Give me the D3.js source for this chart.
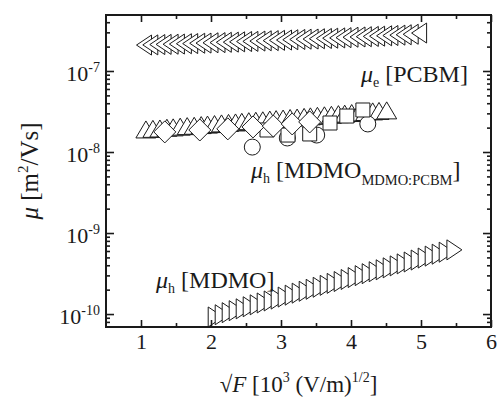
<!DOCTYPE html>
<html>
<meta charset="utf-8">
<style>
body{margin:0;background:#fff;}
svg text{font-family:"Liberation Serif","Times New Roman",serif;fill:#1a1a1a;}
.mark{fill:#fff;stroke:#1a1a1a;stroke-width:1;}
</style>
<body>
<svg width="498" height="405"></svg>
<script src="https://d3js.org/d3.v7.min.js"></script>
<script>
// mu_e PCBM (left triangles)
var pcbmX = [1.05,1.14,1.24,1.33,1.43,1.52,1.62,1.71,1.81,1.90,2.00,2.10,2.19,2.29,2.38,2.48,2.57,2.67,2.76,2.86,2.95,3.05,3.14,3.24,3.33,3.43,3.52,3.62,3.71,3.81,3.90,4.00,4.10,4.19,4.29,4.38,4.48,4.57,4.67,4.76,4.86,4.98];
var pcbmY = [2.09e-7,2.10e-7,2.12e-7,2.13e-7,2.14e-7,2.15e-7,2.17e-7,2.18e-7,2.20e-7,2.21e-7,2.23e-7,2.24e-7,2.26e-7,2.27e-7,2.29e-7,2.31e-7,2.32e-7,2.34e-7,2.36e-7,2.37e-7,2.39e-7,2.41e-7,2.43e-7,2.45e-7,2.47e-7,2.48e-7,2.50e-7,2.52e-7,2.54e-7,2.56e-7,2.58e-7,2.61e-7,2.63e-7,2.65e-7,2.67e-7,2.69e-7,2.72e-7,2.74e-7,2.77e-7,2.80e-7,2.84e-7,2.94e-7];
// mu_h blend (up triangles)
var blendX = [1.07,1.17,1.27,1.37,1.46,1.56,1.66,1.76,1.86,1.95,2.05,2.15,2.25,2.35,2.44,2.54,2.64,2.74,2.84,2.93,3.03,3.13,3.23,3.33,3.42,3.52,3.62,3.72,3.82,3.91,4.01,4.11,4.21,4.31,4.40,4.51];
var blendY = [1.82e-8,1.85e-8,1.87e-8,1.91e-8,1.93e-8,1.97e-8,2.00e-8,2.02e-8,2.06e-8,2.09e-8,2.12e-8,2.16e-8,2.19e-8,2.22e-8,2.26e-8,2.30e-8,2.33e-8,2.36e-8,2.41e-8,2.44e-8,2.48e-8,2.52e-8,2.55e-8,2.60e-8,2.64e-8,2.68e-8,2.72e-8,2.76e-8,2.81e-8,2.85e-8,2.90e-8,2.95e-8,2.99e-8,3.04e-8,3.08e-8,3.13e-8];
// diamonds
var diaX = [1.34,1.84,2.24,2.60,2.89,3.16,3.41];
var diaY = [1.77e-8,1.87e-8,1.93e-8,2.04e-8,2.09e-8,2.22e-8,2.35e-8];
// squares
var sqX = [2.80,3.10,3.41,3.70,3.94,4.17];
var sqY = [1.87e-8,1.62e-8,1.67e-8,2.28e-8,2.78e-8,3.30e-8];
// circles
var cirX = [2.59,3.09,3.51,4.24];
var cirY = [1.15e-8,1.49e-8,1.62e-8,2.22e-8];
// mu_h MDMO (right triangles)
var mdmoX = [2.06,2.16,2.26,2.36,2.46,2.56,2.66,2.76,2.86,2.96,3.06,3.16,3.26,3.36,3.46,3.56,3.66,3.76,3.86,3.96,4.06,4.16,4.26,4.36,4.46,4.56,4.66,4.76,4.86,4.96,5.06,5.16,5.26,5.36,5.47];
var mdmoY = [9.2e-11,9.8e-11,1.04e-10,1.10e-10,1.16e-10,1.23e-10,1.30e-10,1.37e-10,1.45e-10,1.53e-10,1.62e-10,1.71e-10,1.81e-10,1.91e-10,2.02e-10,2.14e-10,2.26e-10,2.39e-10,2.52e-10,2.67e-10,2.82e-10,2.98e-10,3.15e-10,3.33e-10,3.52e-10,3.72e-10,3.93e-10,4.16e-10,4.39e-10,4.64e-10,4.91e-10,5.19e-10,5.48e-10,5.80e-10,6.20e-10];

var xMajor = [1,2,3,4,5,6];
var xMinor = [1.5,2.5,3.5,4.5,5.5];
var yMajor = [1e-10,1e-9,1e-8,1e-7];
var yExp = ["-10","-9","-8","-7"];

var svg = d3.select("svg"),
    padL = 106, padT = 15,
    width = 385, height = 312;
var g = svg.append("g").attr("transform", "translate(" + padL + "," + padT + ")");

var x = d3.scaleLinear().domain([0.5, 6]).range([0, width]);
var y = d3.scaleLog().domain([6.92e-11, 4.91e-7]).range([height, 0]);

var yMinor = [];
[-11,-10,-9,-8,-7].forEach(function(e) {
  for (var k = 2; k <= 9; k++) {
    var v = k * Math.pow(10, e);
    if (v > y.domain()[0] && v < y.domain()[1]) yMinor.push(v);
  }
});

function pts(xs, ys) { return xs.map(function(d, i) { return [d, ys[i]]; }); }

// markers
var triL = "M-8,0L7,-10L7,10Z",
    triR = "M8,0L-7,-10L-7,10Z",
    triU = "M0,-10L10,7L-10,7Z",
    dia = "M0,-11L11,0L0,11L-11,0Z",
    sq = "M-7,-7H7V7H-7Z";

function drawPath(data, d) {
  g.append("g").selectAll("path").data(data).enter().append("path")
    .attr("class", "mark")
    .attr("d", d)
    .attr("transform", function(p) { return "translate(" + x(p[0]) + "," + y(p[1]) + ")"; });
}

drawPath(pts(pcbmX, pcbmY), triL);
drawPath(pts(mdmoX, mdmoY), triR);
drawPath(pts(blendX, blendY), triU);
g.append("g").selectAll("circle").data(pts(cirX, cirY)).enter().append("circle")
  .attr("class", "mark")
  .attr("cx", function(p) { return x(p[0]); })
  .attr("cy", function(p) { return y(p[1]); })
  .attr("r", 8);
drawPath(pts(sqX, sqY), sq);
drawPath(pts(diaX, diaY), dia);

// axes (inward ticks, mirrored)
function tickAxis(axis, vals, size) {
  return axis.tickValues(vals).tickSize(size).tickFormat("");
}
var xb = g.append("g").attr("transform", "translate(0," + height + ")");
xb.call(d3.axisBottom(x).tickValues(xMajor).tickSize(-7).tickPadding(6).tickFormat(d3.format("d")));
xb.append("g").call(tickAxis(d3.axisBottom(x), xMinor, -4));
g.append("g").call(tickAxis(d3.axisTop(x), xMajor, -7));
g.append("g").call(tickAxis(d3.axisTop(x), xMinor, -4));

var yl = g.append("g");
yl.call(tickAxis(d3.axisLeft(y), yMajor, -8));
yl.append("g").call(tickAxis(d3.axisLeft(y), yMinor, -4));
var yr = g.append("g").attr("transform", "translate(" + width + ",0)");
yr.call(tickAxis(d3.axisRight(y), yMajor, -8));
yr.append("g").call(tickAxis(d3.axisRight(y), yMinor, -4));

g.selectAll(".domain").remove();
g.selectAll(".tick line").attr("stroke", "#1a1a1a").attr("stroke-width", 1.6);
xb.selectAll(".tick text").attr("font-size", 22).attr("font-family", "Liberation Serif");

// y tick labels
yMajor.forEach(function(v, i) {
  var t = g.append("text").attr("x", -6).attr("y", y(v) + 10)
    .attr("text-anchor", "end").attr("font-size", 22);
  t.append("tspan").text("10");
  t.append("tspan").attr("font-size", 14).attr("dy", -9).text(yExp[i]);
});

// frame
g.append("rect").attr("width", width).attr("height", height)
  .attr("fill", "none").attr("stroke", "#1a1a1a").attr("stroke-width", 2);

// axis titles
var xt = svg.append("text").attr("x", padL + width / 2).attr("y", 392)
  .attr("text-anchor", "middle").attr("font-size", 23);
xt.append("tspan").text("\u221A");
xt.append("tspan").attr("font-style", "italic").text("F");
xt.append("tspan").text(" [10");
xt.append("tspan").attr("font-size", 14).attr("dy", -10).text("3");
xt.append("tspan").attr("dy", 10).text(" (V/m)");
xt.append("tspan").attr("font-size", 14).attr("dy", -10).text("1/2");
xt.append("tspan").attr("dy", 10).text("]");

var yt = svg.append("text").attr("transform", "translate(38," + (padT + height / 2) + ") rotate(-90)")
  .attr("text-anchor", "middle").attr("font-size", 25);
yt.append("tspan").attr("font-style", "italic").text("\u03BC");
yt.append("tspan").text(" [m");
yt.append("tspan").attr("font-size", 15).attr("dy", -10).text("2");
yt.append("tspan").attr("dy", 10).text("/Vs]");

// annotations
function label(px, py, sub, main, sub2) {
  var t = svg.append("text").attr("x", px).attr("y", py).attr("font-size", 24);
  t.append("tspan").attr("font-style", "italic").text("\u03BC");
  t.append("tspan").attr("font-size", 14).attr("dy", 5).text(sub);
  t.append("tspan").attr("dy", -5).text(" [" + main);
  if (sub2) {
    t.append("tspan").attr("font-size", 14.5).attr("dy", 7).text(sub2);
    t.append("tspan").attr("dy", -7).text("]");
  } else {
    t.append("tspan").text("]");
  }
}
label(361, 82, "e", "PCBM");
label(251, 178, "h", "MDMO", "MDMO:PCBM");
label(156, 288, "h", "MDMO");
</script>
</body>
</html>
